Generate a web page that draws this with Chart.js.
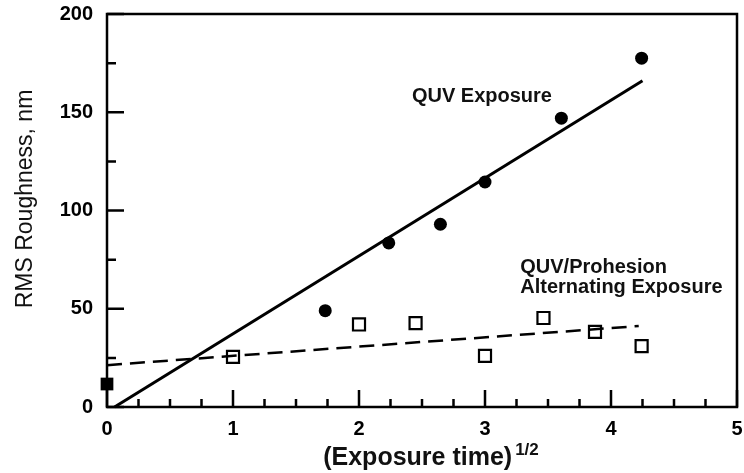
<!DOCTYPE html>
<html>
<head>
<meta charset="utf-8">
<script src="https://cdn.jsdelivr.net/npm/chart.js@4.4.0/dist/chart.umd.min.js"></script>
<style>
  html, body { margin: 0; padding: 0; background: #ffffff; }
  #wrap { width: 744px; height: 473px; }
</style>
</head>
<body>
<div id="wrap"><canvas id="c" width="744" height="473"></canvas></div>
<script>
// ---- data ----
const quvX = [1.732, 2.236, 2.646, 3.0, 3.606, 4.243];
const quvY = [49, 83.5, 93, 114.5, 147, 177.5];
const altX = [1.0, 2.0, 2.449, 3.0, 3.464, 3.873, 4.243];
const altY = [25.5, 42, 42.7, 26, 45.3, 38.2, 31];
const initX = [0];
const initY = [11.7];
const quvFitX = [0.06, 4.25];
const quvFitY = [0, 166];
const altFitX = [0, 4.22];
const altFitY = [21.3, 41.2];
const xTickLabels = [0, 1, 2, 3, 4, 5];
const yTickLabels = [0, 50, 100, 150, 200];
const xTitle = '(Exposure time)';
const xTitleSup = '1/2';
const yTitle = 'RMS Roughness, nm';
const label1 = 'QUV Exposure';
const label2 = ['QUV/Prohesion', 'Alternating Exposure'];

const pts = (xs, ys) => xs.map((x, i) => ({ x: x, y: ys[i] }));

const FONT = '"Liberation Sans", Arial, Helvetica, sans-serif';

const zeroPad = s => { s.paddingLeft = 0; s.paddingRight = 0; s.paddingTop = 0; s.paddingBottom = 0; };

const decor = {
  id: 'decor',
  afterDraw(chart) {
    const ctx = chart.ctx;
    const ca = chart.chartArea;
    const xs = chart.scales.x, ys = chart.scales.y;
    ctx.save();
    ctx.strokeStyle = '#000';
    ctx.lineWidth = 2.5;
    ctx.lineCap = 'butt';
    // frame
    ctx.strokeRect(ca.left, ca.top, ca.right - ca.left, ca.bottom - ca.top);
    // inside ticks
    ctx.beginPath();
    xs.ticks.forEach(t => {
      const px = xs.getPixelForValue(t.value);
      const len = xTickLabels.includes(t.value) ? 17 : 8;
      ctx.moveTo(px, ca.bottom);
      ctx.lineTo(px, ca.bottom - len);
    });
    ys.ticks.forEach(t => {
      const py = ys.getPixelForValue(t.value);
      const len = yTickLabels.includes(t.value) ? 17 : 9;
      ctx.moveTo(ca.left, py);
      ctx.lineTo(ca.left + len, py);
    });
    ctx.stroke();

    // x tick labels (positioned by the x scale)
    ctx.fillStyle = '#000';
    ctx.font = 'bold 20px ' + FONT;
    ctx.textAlign = 'center';
    ctx.textBaseline = 'middle';
    xTickLabels.forEach(v => {
      ctx.fillText(String(v), xs.getPixelForValue(v), ca.bottom + 22);
    });

    // annotations
    ctx.fillStyle = '#111';
    ctx.font = 'bold 20px ' + FONT;
    ctx.textAlign = 'left';
    ctx.textBaseline = 'middle';
    ctx.fillText(label1, xs.getPixelForValue(2.42), ys.getPixelForValue(158));
    ctx.fillText(label2[0], xs.getPixelForValue(3.28), ys.getPixelForValue(71.2));
    ctx.fillText(label2[1], xs.getPixelForValue(3.28), ys.getPixelForValue(61));

    // x title with superscript
    ctx.textBaseline = 'alphabetic';
    ctx.font = 'bold 25px ' + FONT;
    const w1 = ctx.measureText(xTitle).width;
    ctx.font = 'bold 17px ' + FONT;
    const w2 = ctx.measureText(xTitleSup).width;
    const cx = 431;
    const x0 = cx - (w1 + 3 + w2) / 2;
    ctx.font = 'bold 25px ' + FONT;
    ctx.fillText(xTitle, x0, 465);
    ctx.font = 'bold 17px ' + FONT;
    ctx.fillText(xTitleSup, x0 + w1 + 3, 455);

    // y title
    ctx.save();
    ctx.translate(26, 199);
    ctx.rotate(-Math.PI / 2);
    ctx.font = '23px ' + FONT;
    ctx.textAlign = 'center';
    ctx.textBaseline = 'middle';
    ctx.fillText(yTitle, 0, 0);
    ctx.restore();

    ctx.restore();
  }
};

new Chart(document.getElementById('c'), {
  type: 'scatter',
  data: {
    datasets: [
      { label: 'QUV fit', type: 'line', data: pts(quvFitX, quvFitY), borderColor: '#000', borderWidth: 3, pointRadius: 0, fill: false, clip: false },
      { label: 'Alternating fit', type: 'line', data: pts(altFitX, altFitY), borderColor: '#000', borderWidth: 2.5, borderDash: [15, 8], pointRadius: 0, fill: false, clip: false },
      { label: 'QUV Exposure', data: pts(quvX, quvY), pointStyle: 'circle', pointRadius: 6.5, backgroundColor: '#000', borderColor: '#000', borderWidth: 0, clip: false },
      { label: 'QUV/Prohesion Alternating Exposure', data: pts(altX, altY), pointStyle: 'rect', pointRadius: 8.5, backgroundColor: '#fff', borderColor: '#000', borderWidth: 2.2, clip: false },
      { label: 'Initial', data: pts(initX, initY), pointStyle: 'rect', pointRadius: 9, backgroundColor: '#000', borderColor: '#000', borderWidth: 0, clip: false }
    ]
  },
  plugins: [decor],
  options: {
    responsive: false,
    animation: false,
    devicePixelRatio: 1,
    layout: { autoPadding: false, padding: { top: 14, right: 7, left: 0, bottom: 0 } },
    plugins: { legend: { display: false }, tooltip: { enabled: false } },
    scales: {
      x: {
        type: 'linear', min: 0, max: 5,
        afterFit(s) { s.height = 66; zeroPad(s); },
        grid: { display: false, drawTicks: false },
        border: { display: false },
        ticks: { display: false, stepSize: 0.25, autoSkip: false, maxRotation: 0 }
      },
      y: {
        type: 'linear', min: 0, max: 200,
        afterFit(s) { s.width = 107; zeroPad(s); },
        grid: { display: false, drawTicks: false },
        border: { display: false },
        ticks: {
          stepSize: 25, padding: 14, color: '#000', autoSkip: false,
          font: { family: FONT, size: 20, weight: 'bold' },
          callback: v => yTickLabels.includes(v) ? String(v) : ''
        }
      }
    }
  }
});
</script>
</body>
</html>
